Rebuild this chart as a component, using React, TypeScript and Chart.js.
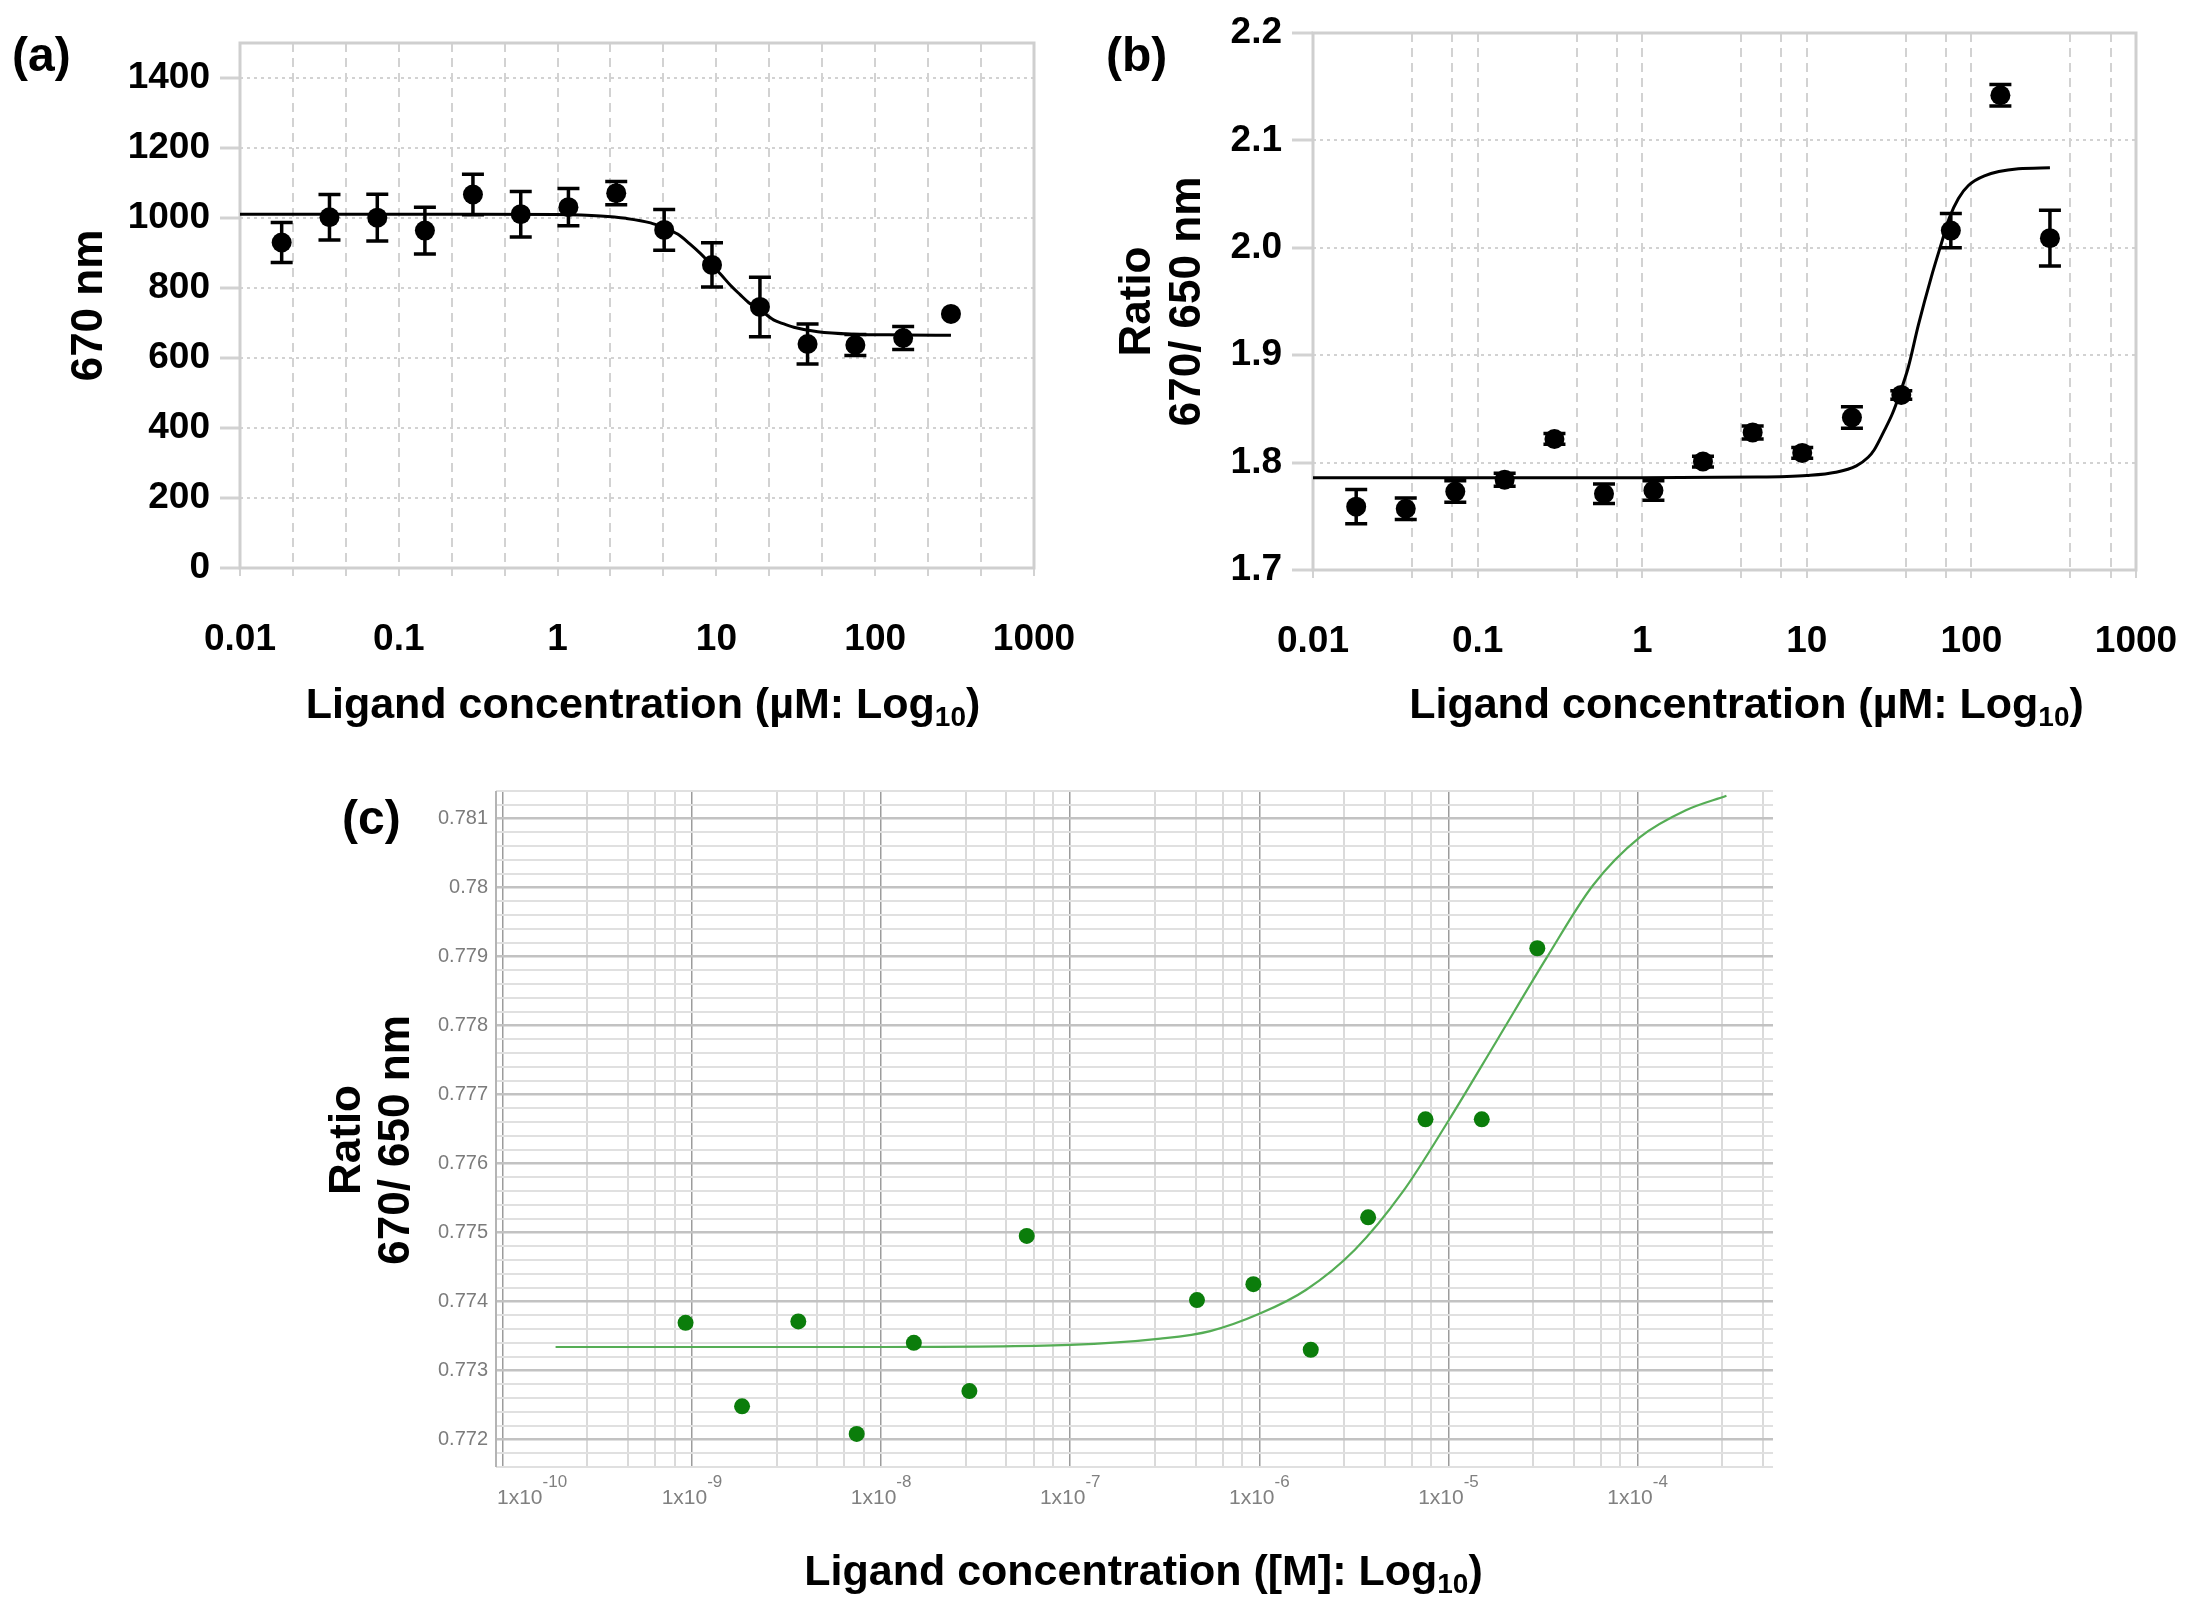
import React, { useEffect, useRef } from 'react';
import { Chart, registerables } from 'chart.js';

Chart.register(...registerables);

const FONT = '"Liberation Sans", Arial, Helvetica, sans-serif';

// (a) and (b): two-fold dilution series of the ligand, in µM
const concUM = [0.0183, 0.0366, 0.0732, 0.146, 0.293, 0.586, 1.17, 2.34, 4.69, 9.38, 18.8, 37.5, 75, 150, 300];

// (a) signal at 670 nm, mean and SD
const em670 = [930, 1002, 1001, 964, 1067, 1011, 1031, 1071, 966, 866, 746, 640, 637, 657, 726];
const em670Sd = [57, 65, 67, 67, 58, 65, 53, 33, 58, 63, 85, 57, 30, 33, 0];
// (a) fitted curve
const fitAX = [0.01, 0.3, 1, 1.86, 2.7, 3.85, 4.6, 5.7, 6.8, 7.95, 9, 10.6, 12.3, 14.1, 16, 18.2, 22.9, 26, 30.7, 43.5, 73, 150, 300];
const fitAY = [1011, 1011, 1010, 1006, 999, 986, 973, 954, 926, 898, 873, 840, 807, 781, 758, 743, 709, 699, 688, 675, 668, 666, 665];

// (b) ratio 670/650 nm, mean and SD
const ratioB = [1.759, 1.757, 1.773, 1.784, 1.822, 1.771, 1.774, 1.801, 1.828, 1.809, 1.842, 1.863, 2.016, 2.142, 2.009];
const ratioBSd = [0.016, 0.01, 0.01, 0.006, 0.005, 0.009, 0.009, 0.005, 0.006, 0.005, 0.01, 0.004, 0.016, 0.01, 0.026];
const fitBX = [0.01, 1, 5, 10, 15, 20, 23.6, 25.7, 29.6, 33, 36.5, 41.4, 47.6, 57.1, 65.7, 73.5, 83.4, 95.9, 120, 193, 300];
const fitBY = [1.786, 1.786, 1.7865, 1.788, 1.791, 1.797, 1.805, 1.812, 1.83, 1.845, 1.863, 1.889, 1.928, 1.973, 2.004, 2.028, 2.046, 2.058, 2.067, 2.0735, 2.0745];

// (c) molar concentrations and ratio
const concM = [9.25e-10, 1.84e-9, 3.65e-9, 7.43e-9, 1.49e-8, 2.93e-8, 5.89e-8, 4.68e-7, 9.3e-7, 1.87e-6, 3.76e-6, 7.56e-6, 1.5e-5, 2.95e-5];
const ratioC = [0.77369, 0.77248, 0.77371, 0.77208, 0.7734, 0.7727, 0.77495, 0.77402, 0.77425, 0.7733, 0.77522, 0.77664, 0.77664, 0.77912];
const fitCX = [1.9e-10, 1e-9, 1e-8, 1e-7, 3e-7, 5.5e-7, 1e-6, 1.77e-6, 3.2e-6, 5.7e-6, 1e-5, 1.8e-5, 3.3e-5, 5.8e-5, 1.03e-4, 1.8e-4, 2.95e-4];
const fitCY = [0.77334, 0.77334, 0.77334, 0.77337, 0.77346, 0.77357, 0.77382, 0.77417, 0.77475, 0.77558, 0.77662, 0.77778, 0.77898, 0.78003, 0.78073, 0.78112, 0.78133];

// tick labels
const decadesUM = [0.01, 0.1, 1, 10, 100, 1000];
const decadeLabelsUM = ['0.01', '0.1', '1', '10', '100', '1000'];
const yTicksA = [0, 200, 400, 600, 800, 1000, 1200, 1400];
const yTicksB = [1.7, 1.8, 1.9, 2.0, 2.1, 2.2];
const decadesM = [1e-10, 1e-9, 1e-8, 1e-7, 1e-6, 1e-5, 1e-4];
const decadeExpM = ['-10', '-9', '-8', '-7', '-6', '-5', '-4'];
const yTicksC = [0.772, 0.773, 0.774, 0.775, 0.776, 0.777, 0.778, 0.779, 0.78, 0.781];

// where the minor grid lines sit inside each decade
const minorA = [2.15, 4.64];
const minorB = [4, 7];
const minorC = [2.8, 4.6, 6.4, 8.1];

function gridValues(decades: number[], minor: number[], max: number) {
  const out: number[] = [];
  decades.forEach((d) => {
    out.push(d);
    minor.forEach((m) => {
      if (d * m < max) out.push(d * m);
    });
  });
  return out;
}

const pts = (xs: number[], ys: number[]) => xs.map((x, i) => ({ x, y: ys[i] }));

type Decor = {
  label: string;
  labelX: number;
  labelY: number;
  yTitle: string[];
  yTitleX: number[];
  yTitleShift: number;
  xTitle: string;
  xTitleShift: number;
  xTitleY: number;
  frame: 'box' | 'left';
  sd?: number[];
  expTicks?: boolean;
};

function decorPlugin(d: Decor) {
  return {
    id: 'decor',
    beforeDatasetsDraw(chart: any) {
      const { ctx, chartArea: a } = chart;
      ctx.save();
      if (d.frame === 'box') {
        ctx.strokeStyle = '#cfcfcf';
        ctx.lineWidth = 3;
        ctx.strokeRect(a.left, a.top, a.right - a.left, a.bottom - a.top);
      } else {
        ctx.strokeStyle = '#b4b4b4';
        ctx.lineWidth = 2;
        ctx.beginPath();
        ctx.moveTo(a.left, a.top);
        ctx.lineTo(a.left, a.bottom);
        ctx.stroke();
      }
      if (d.sd) {
        const meta = chart.getDatasetMeta(0);
        const ys = chart.scales.y;
        const vals = chart.data.datasets[0].data;
        ctx.strokeStyle = '#000';
        ctx.lineWidth = 3.5;
        meta.data.forEach((el: any, i: number) => {
          const e = d.sd![i];
          if (!e) return;
          const top = ys.getPixelForValue(vals[i].y + e);
          const bot = ys.getPixelForValue(vals[i].y - e);
          ctx.beginPath();
          ctx.moveTo(el.x, top);
          ctx.lineTo(el.x, bot);
          ctx.moveTo(el.x - 11, top);
          ctx.lineTo(el.x + 11, top);
          ctx.moveTo(el.x - 11, bot);
          ctx.lineTo(el.x + 11, bot);
          ctx.stroke();
        });
      }
      ctx.restore();
    },
    afterDraw(chart: any) {
      const { ctx, chartArea: a } = chart;
      ctx.save();
      ctx.fillStyle = '#000';
      ctx.textBaseline = 'alphabetic';
      ctx.textAlign = 'left';
      ctx.font = `bold 48px ${FONT}`;
      ctx.fillText(d.label, d.labelX, d.labelY);

      ctx.font = `bold 44px ${FONT}`;
      ctx.textAlign = 'center';
      const cy = (a.top + a.bottom) / 2 + d.yTitleShift;
      d.yTitle.forEach((line, i) => {
        ctx.save();
        ctx.translate(d.yTitleX[i], cy);
        ctx.rotate(-Math.PI / 2);
        ctx.fillText(line, 0, 0);
        ctx.restore();
      });

      // x title: "... Log" + subscript "10" + ")"
      ctx.textAlign = 'left';
      const main = `bold 43px ${FONT}`;
      const sub = `bold 28px ${FONT}`;
      ctx.font = main;
      const w1 = ctx.measureText(d.xTitle).width;
      const w3 = ctx.measureText(')').width;
      ctx.font = sub;
      const w2 = ctx.measureText('10').width;
      let x = (a.left + a.right) / 2 + d.xTitleShift - (w1 + w2 + w3) / 2;
      ctx.font = main;
      ctx.fillText(d.xTitle, x, d.xTitleY);
      x += w1;
      ctx.font = sub;
      ctx.fillText('10', x, d.xTitleY + 8);
      x += w2;
      ctx.font = main;
      ctx.fillText(')', x, d.xTitleY);

      if (d.expTicks) {
        const xs = chart.scales.x;
        ctx.fillStyle = '#808080';
        decadesM.forEach((v, i) => {
          const px = xs.getPixelForValue(v);
          ctx.font = `21px ${FONT}`;
          const b = ctx.measureText('1x10').width;
          ctx.font = `17px ${FONT}`;
          const e = ctx.measureText(decadeExpM[i]).width;
          let left = px - (b + e) / 2;
          if (left < a.left) left = a.left + 1;
          ctx.font = `21px ${FONT}`;
          ctx.fillText('1x10', left, a.bottom + 37);
          ctx.font = `17px ${FONT}`;
          ctx.fillText(decadeExpM[i], left + b, a.bottom + 20);
        });
      }
      ctx.restore();
    },
  };
}

const tickFont = { family: FONT, size: 37, weight: 'bold' as const };

function doseAxis(grid: number[], height: number) {
  return {
    type: 'logarithmic',
    min: 0.01,
    max: 1000,
    afterBuildTicks: (s: any) => {
      s.ticks = grid.map((v) => ({ value: v }));
    },
    afterFit: (s: any) => {
      s.height = height;
      // the end labels may hang over the frame; keep the plot area where it is
      s.paddingLeft = 0;
      s.paddingRight = 0;
    },
    ticks: {
      autoSkip: false,
      maxRotation: 0,
      padding: 42,
      color: '#000',
      font: tickFont,
      callback: (v: number) => {
        const i = decadesUM.indexOf(v);
        return i >= 0 ? decadeLabelsUM[i] : '';
      },
    },
    grid: { color: '#d2d2d2', lineWidth: 2, tickLength: 8, tickColor: '#d2d2d2', tickWidth: 2 },
    border: { display: false, dash: [9, 6] },
  };
}

function valueAxis(min: number, max: number, ticks: number[], width: number, fmt: (v: number) => string, tickLen: number) {
  return {
    type: 'linear',
    min,
    max,
    afterBuildTicks: (s: any) => {
      s.ticks = ticks.map((v) => ({ value: v }));
    },
    afterFit: (s: any) => {
      s.width = width;
      s.paddingTop = 0;
      s.paddingBottom = 0;
    },
    ticks: { padding: 10, color: '#000', font: tickFont, callback: (v: number) => fmt(v) },
    grid: { color: '#d2d2d2', lineWidth: 2, tickLength: tickLen, tickColor: '#d2d2d2', tickWidth: 3 },
    border: { display: false, dash: [3, 4] },
  };
}

function makeA() {
  return {
    type: 'scatter',
    data: {
      datasets: [
        { data: pts(concUM, em670), pointRadius: 10, pointBackgroundColor: '#000', pointBorderWidth: 0 },
        { data: pts(fitAX, fitAY), showLine: true, pointRadius: 0, borderColor: '#000', borderWidth: 3, cubicInterpolationMode: 'monotone' },
      ],
    },
    options: {
      animation: false,
      responsive: true,
      maintainAspectRatio: false,
      layout: { padding: { left: 0, top: 43, right: 56, bottom: 0 } },
      plugins: { legend: { display: false }, tooltip: { enabled: false } },
      scales: {
        x: doseAxis(gridValues(decadesUM, minorA, 1000), 172),
        y: valueAxis(0, 1500, yTicksA, 240, (v) => String(v), 20),
      },
    },
    plugins: [
      decorPlugin({
        label: '(a)', labelX: 12, labelY: 71,
        yTitle: ['670 nm'], yTitleX: [102], yTitleShift: 0,
        xTitle: 'Ligand concentration (µM: Log', xTitleShift: 6, xTitleY: 718,
        frame: 'box', sd: em670Sd,
      }),
    ],
  };
}

function makeB() {
  return {
    type: 'scatter',
    data: {
      datasets: [
        { data: pts(concUM, ratioB), pointRadius: 10, pointBackgroundColor: '#000', pointBorderWidth: 0 },
        { data: pts(fitBX, fitBY), showLine: true, pointRadius: 0, borderColor: '#000', borderWidth: 3, cubicInterpolationMode: 'monotone' },
      ],
    },
    options: {
      animation: false,
      responsive: true,
      maintainAspectRatio: false,
      layout: { padding: { left: 0, top: 33, right: 57, bottom: 0 } },
      plugins: { legend: { display: false }, tooltip: { enabled: false } },
      scales: {
        x: doseAxis(gridValues(decadesUM, minorB, 1000), 170),
        y: valueAxis(1.7, 2.2, yTicksB, 223, (v) => v.toFixed(1), 21),
      },
    },
    plugins: [
      decorPlugin({
        label: '(b)', labelX: 16, labelY: 71,
        yTitle: ['Ratio', '670/ 650 nm'], yTitleX: [60, 110], yTitleShift: 0,
        xTitle: 'Ligand concentration (µM: Log', xTitleShift: 22, xTitleY: 718,
        frame: 'box', sd: ratioBSd,
      }),
    ],
  };
}

function makeC() {
  const gridX = gridValues(decadesM, minorC, 5.2e-4);
  const gridY: number[] = [];
  for (let i = 0; i <= 49; i++) gridY.push(Math.round((0.7716 + i * 0.0002) * 1e5) / 1e5);
  const majorY = (v: number) => yTicksC.findIndex((t) => Math.abs(t - v) < 1e-7);
  return {
    type: 'scatter',
    data: {
      datasets: [
        { data: pts(concM, ratioC), pointRadius: 8, pointBackgroundColor: '#0b7d0b', pointBorderWidth: 0 },
        { data: pts(fitCX, fitCY), showLine: true, pointRadius: 0, borderColor: '#55ad55', borderWidth: 2.2, cubicInterpolationMode: 'monotone' },
      ],
    },
    options: {
      animation: false,
      responsive: true,
      maintainAspectRatio: false,
      layout: { padding: { left: 0, top: 51, right: 420, bottom: 0 } },
      plugins: { legend: { display: false }, tooltip: { enabled: false } },
      scales: {
        x: {
          type: 'logarithmic',
          min: 9.2e-11,
          max: 5.2e-4,
          afterBuildTicks: (s: any) => {
            s.ticks = gridX.map((v) => ({ value: v }));
          },
          afterFit: (s: any) => {
            s.height = 139;
            s.paddingLeft = 0;
            s.paddingRight = 0;
          },
          ticks: { display: false, autoSkip: false },
          grid: {
            drawTicks: false,
            color: (c: any) => (decadesM.includes(c.tick?.value) ? '#9c9c9c' : '#dadada'),
            lineWidth: (c: any) => (decadesM.includes(c.tick?.value) ? 1.5 : 2),
          },
          border: { display: false },
        },
        y: {
          type: 'linear',
          min: 0.7716,
          max: 0.7814,
          afterBuildTicks: (s: any) => {
            s.ticks = gridY.map((v) => ({ value: v }));
          },
          afterFit: (s: any) => {
            s.width = 496;
          },
          ticks: {
            autoSkip: false,
            padding: 8,
            color: '#7c7c7c',
            font: { family: FONT, size: 20 },
            callback: (v: number) => {
              const i = majorY(v);
              return i >= 0 ? String(yTicksC[i]) : '';
            },
          },
          grid: {
            drawTicks: false,
            color: (c: any) => (majorY(c.tick?.value) >= 0 ? '#c2c2c2' : '#e0e0e0'),
            lineWidth: (c: any) => (majorY(c.tick?.value) >= 0 ? 2.5 : 2),
          },
          border: { display: false },
        },
      },
    },
    plugins: [
      decorPlugin({
        label: '(c)', labelX: 342, labelY: 94,
        yTitle: ['Ratio', '670/ 650 nm'], yTitleX: [360, 409], yTitleShift: 11,
        xTitle: 'Ligand concentration ([M]: Log', xTitleShift: 9, xTitleY: 845,
        frame: 'left', expTicks: true,
      }),
    ],
  };
}

const Panel: React.FC<{ make: () => any; left: number; top: number; width: number; height: number }> = ({ make, left, top, width, height }) => {
  const ref = useRef<HTMLCanvasElement>(null);

  useEffect(() => {
    if (!ref.current) return;
    const chart = new Chart(ref.current, make());
    return () => chart.destroy();
  }, [make]);

  return (
    <div style={{ position: 'absolute', left, top, width, height }}>
      <canvas ref={ref}></canvas>
    </div>
  );
};

export default function App() {
  useEffect(() => {
    document.body.style.margin = '0';
  }, []);

  return (
    <div style={{ position: 'relative', width: 2193, height: 1606, background: '#fff', overflow: 'hidden' }}>
      <Panel make={makeA} left={0} top={0} width={1090} height={740} />
      <Panel make={makeB} left={1090} top={0} width={1103} height={740} />
      <Panel make={makeC} left={0} top={740} width={2193} height={866} />
    </div>
  );
}
